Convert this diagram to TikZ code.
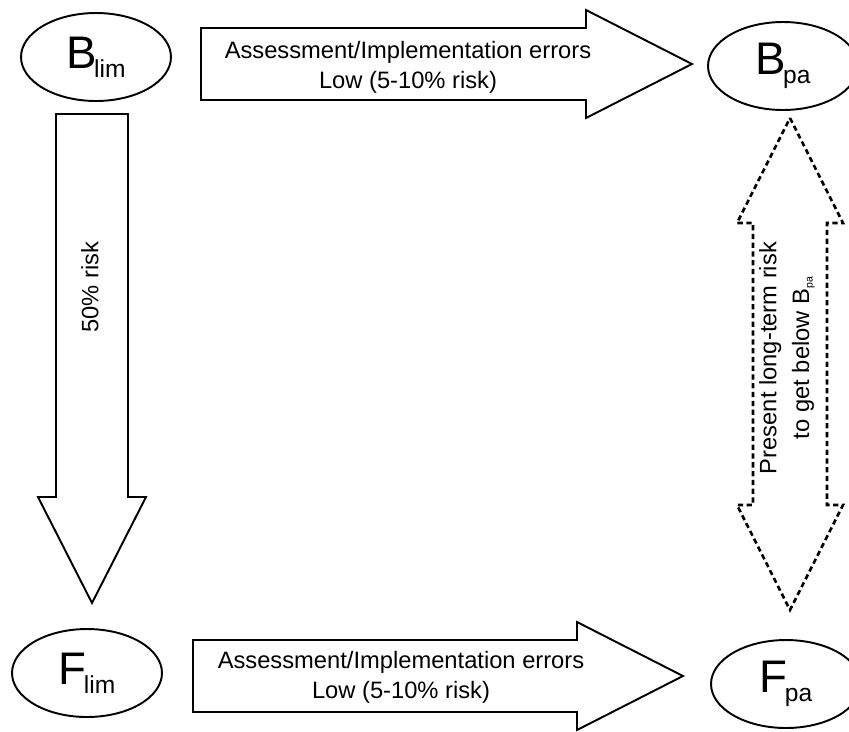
\documentclass[tikz,border=0pt]{standalone}
\usepackage{fontspec}
\setmainfont{Liberation Sans}
\usepackage{tikz}
\usetikzlibrary{calc,positioning,shapes.geometric}

% block arrow pointing right, from #2 to tip #3
\newcommand{\harrow}[3][]{%
  \draw[#1] ($(#2)+(0,-36)$) -- ($(#3)+(-106,-36)$) -- ($(#3)+(-106,-54)$) -- (#3)
    -- ($(#3)+(-106,54)$) -- ($(#3)+(-106,36)$) -- ($(#2)+(0,36)$) -- cycle;}
% block arrow pointing down, from #2 to tip #3
\newcommand{\varrow}[3][]{%
  \draw[#1] ($(#2)+(-36,0)$) -- ($(#3)+(-36,-106)$) -- ($(#3)+(-54,-106)$) -- (#3)
    -- ($(#3)+(54,-106)$) -- ($(#3)+(36,-106)$) -- ($(#2)+(36,0)$) -- cycle;}
% reference point symbol
\newcommand{\refsym}[2]{{\fontsize{26}{26}\selectfont #1}\kern-1.5pt%
  \raisebox{-5pt}{\fontsize{14}{14}\selectfont #2}}

\begin{document}
\begin{tikzpicture}[
  x=0.02cm, y=-0.02cm,
  refpt/.style={ellipse,draw=black,line width=1.1pt,inner sep=0pt,
                minimum width=3cm, minimum height=1.76cm},
  solidarr/.style={draw=black,line width=1.1pt,line join=miter},
  dasharr/.style={draw=black,line width=1.5pt,dash pattern=on 3pt off 2pt},
  lbl/.style={font=\fontsize{13.5}{17}\selectfont, align=center, inner sep=0pt},
]
  \useasboundingbox (0,0) rectangle (849,731);
  \clip (0,0) rectangle (849,731);

  %% Reference points
  \node[refpt] (Blim) at (96,57)  {\refsym{B}{lim}};
  \node[refpt] (Bpa)  at (783,66) {\refsym{B}{pa}};
  \node[refpt] (Flim) at (87,673) {\refsym{F}{lim}};
  \node[refpt] (Fpa)  at (786,684) {\refsym{F}{pa}};

  %% Arrow ends
  \coordinate (TopS) at (201,64);  \coordinate (TopT) at (692,64);
  \coordinate (BotS) at (193,676); \coordinate (BotT) at (683,676);
  \coordinate (LftS) at (92,114);  \coordinate (LftT) at (92,603);
  \coordinate (RgtU) at (790,118); \coordinate (RgtD) at (790,610);

  %% Blim -> Bpa and Flim -> Fpa
  \harrow[solidarr]{TopS}{TopT}
  \harrow[solidarr]{BotS}{BotT}

  %% Blim -> Flim
  \varrow[solidarr]{LftS}{LftT}

  %% Bpa <-> Fpa
  \draw[dasharr] (RgtU) -- ($(RgtU)+(53,105)$) -- ($(RgtU)+(37,105)$)
    -- ($(RgtD)+(37,-105)$) -- ($(RgtD)+(53,-105)$) -- (RgtD)
    -- ($(RgtD)+(-53,-105)$) -- ($(RgtD)+(-37,-105)$)
    -- ($(RgtU)+(-37,105)$) -- ($(RgtU)+(-53,105)$) -- cycle;

  %% Labels
  \node[lbl] (LTop) at (408,67)
    {Assessment/Implementation errors\\Low (5-10\% risk)};
  \node[lbl] (LBot) at (401,677)
    {Assessment/Implementation errors\\Low (5-10\% risk)};
  \node[lbl,rotate=90] (LLft) at (90,287) {50\% risk};
  \node[lbl,rotate=90,font=\fontsize{13.5}{18.5}\selectfont] (LRgt) at (787,358)
    {Present long-term risk\\to get below B\raisebox{-2pt}{\fontsize{6}{6}\selectfont pa}};
\end{tikzpicture}
\end{document}
